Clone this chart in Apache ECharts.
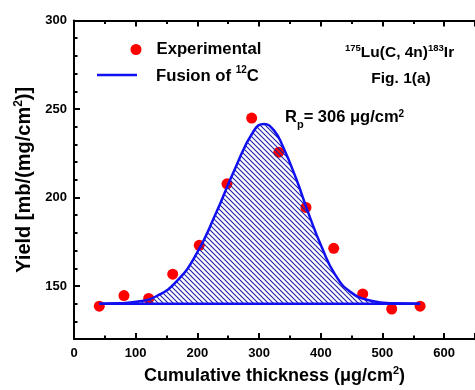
<!DOCTYPE html>
<html>
<head>
<meta charset="utf-8">
<script src="https://cdn.jsdelivr.net/npm/echarts@6/dist/echarts.min.js"></script>
<style>
  html, body { margin: 0; padding: 0; background: #fff; }
  #chart { width: 475px; height: 390px; }
</style>
</head>
<body>
<div id="chart"></div>
<script>
// experimental points
const expX = [41, 81, 121, 160, 203, 248, 288, 332, 376, 421, 468, 515, 561];
const expY = [138.6, 144.6, 143, 156.7, 173, 207.7, 244.9, 225.6, 194.4, 171.3, 145.5, 137, 138.6];
// fusion curve
const fitX = [41, 70, 104, 135, 167, 198, 229, 261, 292, 308, 325, 339, 360, 381, 402, 423, 449, 481, 517, 561];
const fitY = [140, 140.2, 141.2, 144.5, 152.9, 167.8, 190.2, 216.3, 238, 241.5, 237.5, 228.5, 210.7, 190.2, 171.6, 156.6, 146.4, 141.7, 140.2, 140];
const baseX = [41, 561];
const baseY = [140, 140];
// ticks
const yMajor = [150, 200, 250, 300];
const yMinor = [130, 140, 160, 170, 180, 190, 210, 220, 230, 240, 260, 270, 280, 290];

const FONT = '"Liberation Sans", Arial, sans-serif';
const INK = '#000';
const BLUE = '#1010f0';

// hatch ( \\\\ ) for the area under the fit
function hatch() {
  const c = document.createElement('canvas');
  c.width = 5; c.height = 5;
  const g = c.getContext('2d');
  g.strokeStyle = '#2020a8';
  g.lineWidth = 1.1;
  g.beginPath();
  g.moveTo(-1, -1); g.lineTo(6, 6);
  g.moveTo(-1, 4); g.lineTo(1, 6);
  g.moveTo(4, -1); g.lineTo(6, 1);
  g.stroke();
  return c;
}

const sup = { fontFamily: FONT, fontWeight: 'bold', fontSize: 10, color: INK, verticalAlign: 'top', lineHeight: 11 };
const tickLine = { color: INK, width: 2 };
const axisLine = { show: true, onZero: false, lineStyle: { color: INK, width: 2 } };

function xAxisAt(pos, withLabels) {
  let ax = {
    type: 'value', position: pos, min: 0, max: 650, interval: 100,
    axisLine: axisLine,
    axisTick: { show: true, inside: true, length: 6, lineStyle: tickLine },
    minorTick: { show: true, splitNumber: 2, length: 3.5, lineStyle: tickLine },
    splitLine: { show: false },
    minorSplitLine: { show: false },
    axisLabel: { show: false }
  };
  if (withLabels) {
    ax.axisLabel = { show: true, showMaxLabel: false, margin: 8, color: INK, fontFamily: FONT, fontWeight: 'bold', fontSize: 13 };
    ax.name = '{a|Cumulative thickness (μg/cm}{s|2}{a|)}';
    ax.nameLocation = 'middle';
    ax.nameGap = 24;
    ax.nameTextStyle = {
      rich: {
        a: { fontFamily: FONT, fontWeight: 'bold', fontSize: 18, color: INK, lineHeight: 20, verticalAlign: 'bottom' },
        s: Object.assign({}, sup, { fontSize: 11 })
      }
    };
  }
  return ax;
}

let chart = echarts.init(document.getElementById('chart'));
let options = {
  animation: false,
  backgroundColor: '#fff',
  grid: { left: 74, top: 20.5, width: 414, height: 320.5 },
  xAxis: [xAxisAt('bottom', true), xAxisAt('top', false)],
  yAxis: [
    {
      type: 'value', position: 'left', min: 120, max: 300,
      axisLine: axisLine,
      axisTick: { show: true, inside: true, length: 6, customValues: yMajor, lineStyle: tickLine },
      axisLabel: { show: true, customValues: yMajor, margin: 7, color: INK, fontFamily: FONT, fontWeight: 'bold', fontSize: 13 },
      splitLine: { show: false },
      name: '{a|Yield [mb/(mg/cm}{s|2}{a|)]}',
      nameLocation: 'middle',
      nameGap: 33,
      nameTextStyle: {
        rich: {
          a: { fontFamily: FONT, fontWeight: 'bold', fontSize: 20, color: INK, lineHeight: 22, verticalAlign: 'bottom' },
          s: Object.assign({}, sup, { fontSize: 12 })
        }
      }
    },
    {
      type: 'value', position: 'left', min: 120, max: 300,
      axisLine: { show: false, onZero: false },
      axisTick: { show: true, inside: true, length: 3.5, customValues: yMinor, lineStyle: tickLine },
      axisLabel: { show: false },
      splitLine: { show: false }
    }
  ],
  legend: [
    {
      data: ['Experimental'],
      left: 125.5, top: 36,
      itemWidth: 11, itemHeight: 11,
      icon: 'circle',
      itemStyle: { color: '#ff0000', opacity: 1 },
      formatter: '{s| }{a|Experimental}',
      textStyle: {
        rich: {
          s: { width: 10 },
          a: { fontFamily: FONT, fontWeight: 'bold', fontSize: 16.7, color: INK }
        }
      }
    },
    {
      data: ['Fusion of 12C'],
      left: 92, top: 60,
      itemWidth: 40, itemHeight: 2.5,
      icon: 'rect',
      itemStyle: { color: BLUE },
      formatter: '{s| }{a|Fusion of }{b|12}{a|C}',
      textStyle: {
        rich: {
          s: { width: 14 },
          a: { fontFamily: FONT, fontWeight: 'bold', fontSize: 16.7, color: INK, lineHeight: 20, verticalAlign: 'bottom' },
          b: sup
        }
      }
    }
  ],
  graphic: [
    {
      type: 'text', left: 345, top: 43, z: 10,
      style: {
        text: '{s|175}{a|Lu(C, 4n)}{s|183}{a|Ir}',
        rich: {
          a: { fontFamily: FONT, fontWeight: 'bold', fontSize: 15.5, fill: INK, lineHeight: 18, verticalAlign: 'bottom' },
          s: Object.assign({}, sup, { fill: INK, fontSize: 9.5 })
        }
      }
    },
    {
      type: 'text', x: 401, y: 79, z: 10,
      style: {
        text: 'Fig. 1(a)', fill: INK,
        font: 'bold 15.5px ' + FONT,
        align: 'center', verticalAlign: 'middle'
      }
    },
    {
      type: 'text', left: 285, top: 109, z: 10,
      style: {
        text: '{a|R}{p|p}{a|= 306 μg/cm}{s|2}',
        rich: {
          a: { fontFamily: FONT, fontWeight: 'bold', fontSize: 16.5, fill: INK, lineHeight: 18, verticalAlign: 'top' },
          p: { fontFamily: FONT, fontWeight: 'bold', fontSize: 11, fill: INK, lineHeight: 12, verticalAlign: 'top', padding: [10, 0, 0, 0] },
          s: Object.assign({}, sup, { fill: INK, lineHeight: 10 })
        }
      }
    }
  ],
  series: [
    {
      name: 'Experimental',
      type: 'scatter',
      symbol: 'circle',
      symbolSize: 11,
      itemStyle: { color: '#ff0000', opacity: 1 },
      data: expX.map((x, i) => [x, expY[i]]),
      z: 1
    },
    {
      name: 'Fusion of 12C',
      type: 'line',
      smooth: true,
      symbol: 'none',
      lineStyle: { color: BLUE, width: 2.5 },
      itemStyle: { color: BLUE },
      areaStyle: { origin: 140, color: { image: hatch(), repeat: 'repeat' }, opacity: 1 },
      data: fitX.map((x, i) => [x, fitY[i]]),
      z: 3
    },
    {
      name: 'baseline',
      type: 'line',
      symbol: 'none',
      lineStyle: { color: BLUE, width: 2.5 },
      data: baseX.map((x, i) => [x, baseY[i]]),
      z: 3
    }
  ]
};
chart.setOption(options);
</script>
</body>
</html>
